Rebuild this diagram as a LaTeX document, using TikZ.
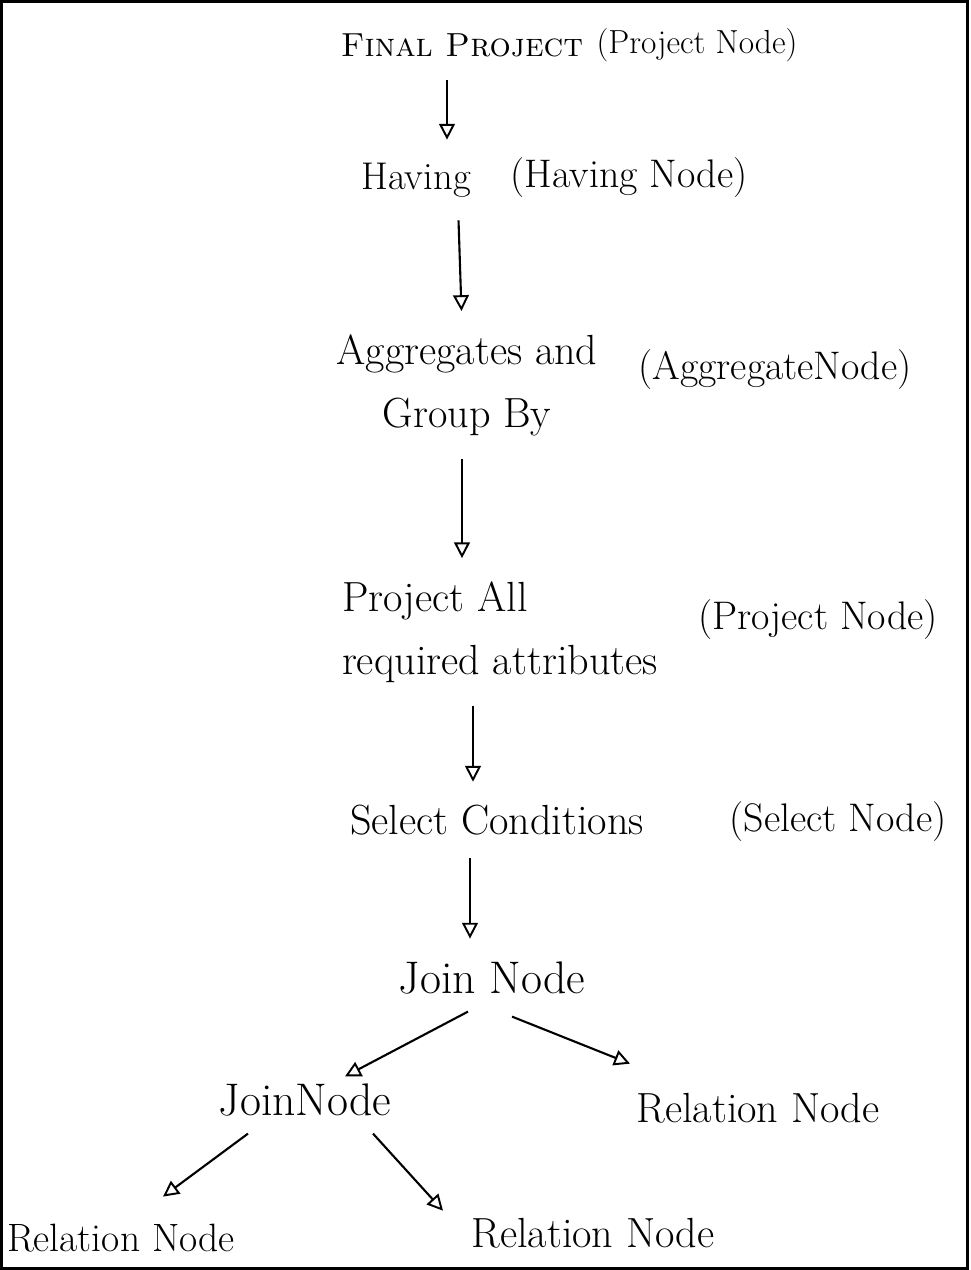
\documentclass[tikz,border=0pt]{standalone}
\usetikzlibrary{arrows.meta,calc}
\begin{document}
\begin{tikzpicture}[x=0.02cm, y=-0.02cm]
        \tikzstyle{every node}=[inner sep=4pt, font=\fontsize{24}{36}\selectfont]
        \tikzstyle{pn}=[font=\fontsize{22.7}{30}\selectfont]
        \tikzstyle{flow}=[line width=1.2pt, shorten <=9pt, shorten >=9pt,
            -{Triangle[open, length=9pt, width=9pt, line width=1.1pt]}]
        \tikzstyle{link}=[line width=1.2pt, -{Triangle[open, length=9pt, width=9pt, line width=1.1pt]}]
        \useasboundingbox (0,0) rectangle (970,1270);
        \draw[line width=1.8pt] (1.5,1.5) rectangle (967.5,1268.5);

        \node[font=\fontsize{19}{24}\selectfont] (fp)  at (462,45) {\textsc{Final Project}};
        \node[font=\fontsize{19}{24}\selectfont] (fpn) at (697,45) {(Project Node)};

        \node[font=\fontsize{22}{30}\selectfont] (hv)  at (416,180) {Having};
        \node[pn] (hvn) at (629,178) {(Having Node)};

        \node[align=center] (ag)  at (467,385) {Aggregates and\\Group By};
        \node[pn] (agn) at (775,370) {(AggregateNode)};

        \node[align=left] (pr)  at (500,632) {Project All\\required attributes};
        \node[pn] (prn) at (818,620) {(Project Node)};

        \node (sl)  at (497,820) {Select Conditions};
        \node[pn] (sln) at (838,822) {(Select Node)};

        \node[font=\fontsize{26}{30}\selectfont] (jn1) at (492,978) {Join Node};
        \node[font=\fontsize{26}{30}\selectfont] (jn2) at (305,1100) {JoinNode};
        \node (rn1) at (758,1108) {Relation Node};
        \node[font=\fontsize{22.5}{30}\selectfont] (rn2) at (121,1238) {Relation Node};
        \node (rn3) at (593,1233) {Relation Node};

        \path [flow] ($(fp.south)+(-15,0)$) edge ($(hv.north)+(31,0)$);
        \path [flow] ($(hv.south)+(42,0)$) edge ($(ag.north)+(-5,0)$);
        \path [flow] ($(ag.south)+(-5,0)$) edge ($(pr.north)+(-38,0)$);
        \path [flow] ($(pr.south)+(-27,0)$) edge ($(sl.north)+(-24,0)$);
        \path [flow] ($(sl.south)+(-27,0)$) edge ($(jn1.north)+(-22,0)$);

        \path [link] ($(jn1.south)+(-24,10)$) edge ($(jn2.north)+(40,0)$);
        \path [link] ($(jn1.south)+(20,15)$) edge ($(rn1.north)+(-128,-22)$);
        \path [link] ($(jn2.south)+(-57,10)$) edge ($(rn2.north)+(42,-20)$);
        \path [link] ($(jn2.south)+(68,10)$) edge ($(rn3.north)+(-150,0)$);
    \end{tikzpicture}
\end{document}
